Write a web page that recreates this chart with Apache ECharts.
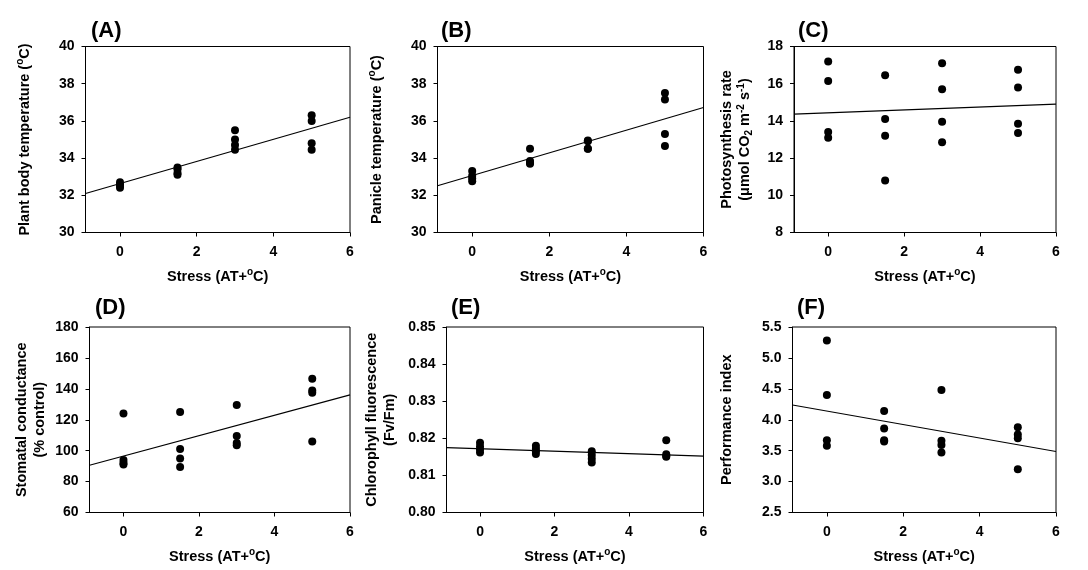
<!DOCTYPE html>
<html><head><meta charset="utf-8">
<script src="https://cdn.jsdelivr.net/npm/echarts@6.0.0/dist/echarts.min.js"></script>
<style>html,body{margin:0;padding:0;background:#fff}#c{width:1088px;height:570px}</style>
</head><body><div id="c"></div>
<script>
// ---- data ----
const stressX = [0,0,0,0, 1.5,1.5,1.5,1.5, 3,3,3,3, 5,5,5,5];
const plantBodyTemp = [32.7,32.6,32.5,32.4, 33.5,33.4,33.2,33.1, 35.5,35.0,34.7,34.45, 36.3,36.0,34.8,34.45];
const panicleTemp   = [33.3,33.05,32.9,32.75, 34.5,33.85,33.75,33.7, 34.95,34.9,34.5,34.5, 37.5,37.15,35.3,34.65];
const photosynthesis= [17.2,16.15,13.4,13.1, 16.45,14.1,13.2,10.8, 17.1,15.7,13.95,12.85, 16.75,15.8,13.85,13.35];
const stomatal      = [124,94,92,91, 125,101,95,89.5, 129.5,109.5,105,103.5, 146.5,139,137.5,106];
const chlorophyll   = [0.8188,0.8178,0.8170,0.8162, 0.8180,0.8172,0.8165,0.8158, 0.8165,0.8155,0.8145,0.8135, 0.8195,0.8157,0.8152,0.8150];
const performance   = [5.28,4.40,3.67,3.58, 4.14,3.86,3.67,3.65, 4.48,3.66,3.59,3.47, 3.88,3.76,3.70,3.20];
// regression lines [intercept, slope] as drawn in the reference
const fitA = [32.63, 0.594];
const fitB = [33.06, 0.61];
const fitC = [14.43, 0.078];
const fitD = [96.5, 6.6];
const fitE = [0.8172, -0.00033];
const fitF = [4.14, -0.109];
// axes / tick labels
const xRange = [-0.9, 6];
const xTicks = [0, 2, 4, 6];
const yMins = [30, 30, 8, 60, 0.80, 2.5];
const yMaxs = [40, 40, 18, 180, 0.85, 5.5];
const ySteps = [2, 2, 2, 20, 0.01, 0.5];
const yDecimals = [0, 0, 0, 0, 2, 1];
const panelLabels = ['(A)','(B)','(C)','(D)','(E)','(F)'];
const xTitle = 'Stress (AT+{sup|o}C)';
const yTitles = [
  'Plant body temperature ({sup|o}C)',
  'Panicle temperature ({sup|o}C)',
  'Photosynthesis rate\n(\u03bcmol CO{sub|2} m{sup|-2} s{sup|-1})',
  'Stomatal conductance\n(% control)',
  'Chlorophyll fluorescence\n(Fv/Fm)',
  'Performance index'
];

// ---- layout ----
const seriesY = [plantBodyTemp, panicleTemp, photosynthesis, stomatal, chlorophyll, performance];
const fits = [fitA, fitB, fitC, fitD, fitE, fitF];
const grids = [
  {left: 85.5, top: 46.5, width: 264.5, height: 186},
  {left: 437.5, top: 46.5, width: 266, height: 186},
  {left: 794, top: 46.5, width: 262, height: 186},
  {left: 89.5, top: 327, width: 260.5, height: 185.5},
  {left: 446.5, top: 327, width: 257, height: 185.5},
  {left: 792.5, top: 327, width: 263.5, height: 185.5}
];
const yNameGaps = [52, 52, 40, 41, 48, 57];
const labelPos = [[91,20],[441,20],[798,20],[95,297],[451,297],[797,297]];

const FONT = '"Liberation Sans", Arial, sans-serif';
const rich = {
  sup: {fontSize: 10, fontWeight: 'bold', fontFamily: FONT, color: '#000', lineHeight: 10, verticalAlign: 'top'},
  sub: {fontSize: 10, fontWeight: 'bold', fontFamily: FONT, color: '#000', lineHeight: 10, verticalAlign: 'bottom'}
};
const nameStyle = {fontSize: 14.5, fontWeight: 'bold', fontFamily: FONT, color: '#000', lineHeight: 18, rich: rich};
const labelStyle = {fontSize: 14, fontWeight: 'bold', fontFamily: FONT, color: '#000'};

const option = {
  animation: false,
  backgroundColor: '#fff',
  grid: grids.map(g => Object.assign({show: true, borderColor: '#000', borderWidth: 1, backgroundColor: 'transparent', containLabel: false, outerBoundsMode: 'none'}, g)),
  xAxis: grids.map((g, i) => ({
    gridIndex: i, type: 'value', min: xRange[0], max: xRange[1],
    axisLine: {show: true, onZero: false, lineStyle: {color: '#000', width: 1}},
    axisTick: {show: true, inside: false, length: 4, customValues: xTicks, lineStyle: {color: '#000'}},
    axisLabel: Object.assign({customValues: xTicks, margin: 13}, labelStyle),
    splitLine: {show: false},
    name: xTitle, nameLocation: 'middle', nameGap: 35, nameTextStyle: nameStyle
  })),
  yAxis: grids.map((g, i) => ({
    gridIndex: i, type: 'value', min: yMins[i], max: yMaxs[i], interval: ySteps[i],
    axisLine: {show: true, onZero: false, lineStyle: {color: '#000', width: 1}},
    axisTick: {show: true, inside: false, length: 4, lineStyle: {color: '#000'}},
    axisLabel: Object.assign({margin: 11, showMaxLabel: true, showMinLabel: true,
      formatter: v => Number(v).toFixed(yDecimals[i])}, labelStyle),
    splitLine: {show: false},
    name: yTitles[i], nameLocation: 'middle', nameGap: yNameGaps[i], nameRotate: 90, nameTextStyle: nameStyle
  })),
  graphic: panelLabels.map((t, i) => ({
    type: 'text', left: labelPos[i][0], top: labelPos[i][1],
    style: {text: t, font: 'bold 22px ' + FONT, fill: '#000'}
  })),
  series: []
};
seriesY.forEach((ys, i) => {
  const f = fits[i];
  option.series.push({
    type: 'line', xAxisIndex: i, yAxisIndex: i, symbol: 'none', silent: true, z: 1,
    lineStyle: {color: '#000', width: 1.2},
    data: xRange.map(x => [x, f[0] + f[1] * x])
  });
  option.series.push({
    type: 'scatter', xAxisIndex: i, yAxisIndex: i, symbolSize: 8, z: 2,
    itemStyle: {color: '#000', opacity: 1},
    data: stressX.map((x, j) => [x, ys[j]])
  });
});
const chart = echarts.init(document.getElementById('c'), null, {renderer: 'canvas'});
chart.setOption(option);
</script>
</body></html>
